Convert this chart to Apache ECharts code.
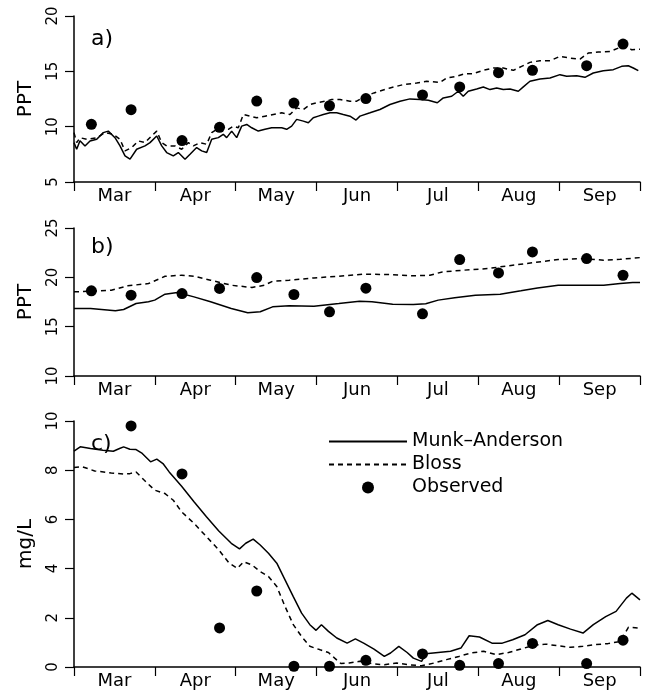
<!DOCTYPE html>
<html><head><meta charset="utf-8">
<script src="https://cdn.jsdelivr.net/npm/echarts@6/dist/echarts.min.js"></script>
<style>html,body{margin:0;padding:0;background:#fff}
#wrap{position:relative;width:648px;height:698px}
#c,#lab{position:absolute;left:0;top:0;width:648px;height:698px}
#lab{pointer-events:none}</style>
</head><body><div id="wrap"><div id="c"></div><div id="lab"></div></div>
<script>
const months = ['Mar','Apr','May','Jun','Jul','Aug','Sep'];
const obsMonth = [0.215,0.706,1.336,1.80,2.26,2.72,3.16,3.61,4.31,4.77,5.25,5.67,6.34,6.79];
const obsA = [10.21,11.53,8.74,9.94,12.31,12.13,11.89,12.54,12.87,13.59,14.88,15.09,15.51,17.46];
const obsB = [18.63,18.19,18.36,18.87,19.98,18.26,16.51,18.9,16.30,21.8,20.45,22.57,21.9,20.21];
const obsC = [null,9.80,7.85,1.59,3.09,0.03,0.03,0.27,0.53,0.07,0.14,0.96,0.14,1.09];

const aMunkX = [0,0.033,0.074,0.136,0.198,0.281,0.362,0.424,0.507,0.569,0.631,0.693,0.775,0.878,0.94,1.023,1.085,1.146,1.228,1.29,1.373,1.435,1.517,1.579,1.641,1.703,1.785,1.846,1.888,1.95,2.012,2.074,2.136,2.198,2.279,2.362,2.445,2.507,2.569,2.63,2.692,2.754,2.836,2.898,2.959,3.021,3.083,3.166,3.249,3.33,3.413,3.488,3.537,3.661,3.784,3.908,4.032,4.155,4.279,4.382,4.493,4.567,4.671,4.753,4.814,4.876,4.98,5.062,5.145,5.228,5.309,5.392,5.495,5.557,5.639,5.763,5.887,6.01,6.093,6.217,6.319,6.422,6.546,6.67,6.773,6.855,6.917,6.979];
const aMunkY = [8.56,7.96,8.73,8.26,8.71,8.86,9.46,9.6,9.0,8.26,7.36,7.06,7.96,8.26,8.56,9.16,8.26,7.66,7.36,7.66,7.06,7.51,8.11,7.81,7.66,8.86,9.01,9.31,9.01,9.6,9.01,10.05,10.2,9.9,9.6,9.76,9.9,9.9,9.9,9.76,10.05,10.66,10.5,10.36,10.8,10.95,11.1,11.25,11.25,11.1,10.95,10.6,10.95,11.25,11.55,12.0,12.3,12.51,12.45,12.39,12.16,12.6,12.75,13.2,12.75,13.2,13.41,13.59,13.35,13.5,13.35,13.41,13.2,13.59,14.1,14.31,14.4,14.7,14.55,14.61,14.46,14.85,15.06,15.15,15.45,15.5,15.3,15.06];
const aBlossX = [0,0.033,0.074,0.157,0.281,0.383,0.485,0.569,0.631,0.714,0.795,0.878,0.96,1.023,1.085,1.146,1.249,1.332,1.414,1.476,1.558,1.641,1.703,1.765,1.846,1.908,1.97,2.032,2.094,2.177,2.259,2.362,2.465,2.568,2.671,2.754,2.836,2.92,3.002,3.105,3.188,3.29,3.413,3.496,3.6,3.71,3.908,4.073,4.238,4.362,4.527,4.609,4.733,4.836,4.939,5.062,5.186,5.309,5.433,5.536,5.639,5.763,5.887,6.01,6.134,6.258,6.36,6.484,6.629,6.732,6.835,6.897,7.0];
const aBlossY = [9.46,8.56,9.0,8.86,9.0,9.46,9.31,8.86,7.81,8.11,8.71,8.56,9.16,9.6,8.56,8.26,8.26,7.96,8.56,8.26,8.56,8.41,9.46,9.76,9.9,9.76,10.05,9.9,11.1,10.95,10.8,10.95,11.1,11.25,11.1,11.7,11.55,12.0,12.16,12.3,12.45,12.45,12.3,12.3,12.75,13.05,13.5,13.8,13.95,14.1,14.0,14.4,14.55,14.79,14.79,15.09,15.3,15.3,15.09,15.45,15.81,15.96,15.96,16.35,16.2,16.11,16.65,16.74,16.8,17.1,17.25,16.95,17.0];

const bMunkX = [0,0.205,0.512,0.614,0.768,0.921,0.998,1.126,1.279,1.484,1.689,1.945,2.149,2.303,2.456,2.661,2.968,3.275,3.531,3.685,3.941,4.197,4.35,4.504,4.708,4.964,5.271,5.527,5.732,5.988,6.244,6.551,6.755,6.909,7.0];
const bMunkY = [16.84,16.84,16.61,16.74,17.35,17.52,17.69,18.29,18.46,18.02,17.52,16.84,16.41,16.51,17.01,17.11,17.08,17.35,17.58,17.52,17.28,17.25,17.32,17.69,17.92,18.19,18.29,18.63,18.93,19.2,19.2,19.2,19.37,19.47,19.47];
const bBlossX = [0,0.256,0.461,0.665,0.921,1.126,1.331,1.484,1.689,1.945,2.201,2.354,2.456,2.661,2.968,3.275,3.582,3.889,4.197,4.401,4.555,4.811,5.118,5.425,5.681,5.988,6.295,6.551,6.755,7.0];
const bBlossY = [18.53,18.6,18.7,19.14,19.37,20.11,20.21,20.11,19.71,19.2,18.97,19.2,19.6,19.71,19.94,20.11,20.32,20.28,20.15,20.21,20.55,20.72,20.89,21.23,21.49,21.8,21.9,21.73,21.83,22.0];

const cMunkX = [0,0.077,0.205,0.358,0.486,0.563,0.614,0.691,0.768,0.844,0.947,1.024,1.1,1.177,1.331,1.484,1.638,1.791,1.945,2.047,2.124,2.216,2.303,2.405,2.508,2.61,2.712,2.815,2.917,2.994,3.06,3.147,3.25,3.378,3.48,3.582,3.71,3.838,3.915,4.017,4.12,4.197,4.299,4.35,4.504,4.657,4.785,4.887,5.015,5.169,5.297,5.425,5.578,5.732,5.86,5.988,6.141,6.295,6.423,6.576,6.704,6.832,6.899,7.0];
const cMunkY = [8.78,8.95,8.88,8.81,8.77,8.88,8.95,8.85,8.84,8.68,8.34,8.45,8.27,7.93,7.35,6.72,6.11,5.53,5.03,4.8,5.03,5.2,4.96,4.62,4.22,3.54,2.86,2.19,1.72,1.49,1.72,1.45,1.18,0.97,1.14,0.97,0.73,0.43,0.57,0.84,0.59,0.36,0.23,0.54,0.59,0.64,0.77,1.27,1.22,0.97,0.97,1.11,1.31,1.72,1.89,1.72,1.54,1.38,1.72,2.05,2.26,2.8,3.0,2.73];
const cBlossX = [0,0.102,0.256,0.461,0.614,0.691,0.768,0.87,0.998,1.126,1.228,1.331,1.484,1.638,1.791,1.919,2.021,2.098,2.201,2.303,2.405,2.508,2.61,2.712,2.815,2.917,3.045,3.147,3.224,3.301,3.403,3.531,3.685,3.838,3.992,4.145,4.299,4.452,4.606,4.759,4.913,5.067,5.22,5.374,5.527,5.681,5.835,5.988,6.141,6.295,6.448,6.602,6.755,6.858,7.0];
const cBlossY = [8.11,8.14,7.97,7.89,7.84,7.86,7.93,7.59,7.19,7.05,6.78,6.31,5.84,5.3,4.76,4.22,4.01,4.28,4.15,3.88,3.68,3.27,2.46,1.72,1.24,0.84,0.7,0.59,0.36,0.14,0.16,0.23,0.14,0.09,0.16,0.09,0.05,0.16,0.3,0.43,0.57,0.64,0.5,0.59,0.73,0.88,0.93,0.86,0.8,0.84,0.91,0.95,1.04,1.62,1.58];

const zip = (xs, ys) => xs.map((x, i) => [x, ys[i]]);
const FONT = 'DejaVu Sans';
const grids = [
  {left: 74, right: 8, top: 16, height: 166},
  {left: 74, right: 8, top: 228, height: 148},
  {left: 74, right: 8, top: 421, height: 246}
];
const yCfg = [
  {min: 5, max: 20, interval: 5, name: 'PPT'},
  {min: 10, max: 25, interval: 5, name: 'PPT'},
  {min: 0, max: 10, interval: 2, name: 'mg/L'}
];
const xAxes = [], yAxes = [], series = [];
const labX = [], labY = [];
const lineSets = [
  [aMunkX, aMunkY, aBlossX, aBlossY, obsA],
  [bMunkX, bMunkY, bBlossX, bBlossY, obsB],
  [cMunkX, cMunkY, cBlossX, cBlossY, obsC]
];
grids.forEach((g, i) => {
  xAxes.push({
    type: 'value', gridIndex: i, min: 0, max: 7, interval: 1,
    axisLine: {show: true, onZero: false, lineStyle: {color: '#000', width: 1.5}},
    axisTick: {show: true, inside: false, length: 9, lineStyle: {color: '#000', width: 1.2}},
    axisLabel: {color: '#000', fontSize: 18, fontFamily: FONT, margin: 5,
      padding: [0, 0, 0, 81], formatter: v => months[v] || ''},
    splitLine: {show: false}
  });
  const yc = yCfg[i];
  yAxes.push({
    type: 'value', gridIndex: i, min: yc.min, max: yc.max, interval: yc.interval,
    name: yc.name, nameLocation: 'middle', nameRotate: 90, nameGap: 38,
    nameTextStyle: {color: '#000', fontSize: 20, fontFamily: FONT},
    axisLine: {show: true, onZero: false, lineStyle: {color: '#000', width: 1.5}},
    axisTick: {show: true, inside: false, length: 9, lineStyle: {color: '#000', width: 1.2}},
    axisLabel: {show: false},
    splitLine: {show: false}
  });
  // label-only axes for the overlay instance (rotated tick numbers)
  labX.push({gridIndex: i, type: 'value', min: 0, max: 7, show: false});
  labY.push({
    gridIndex: i, type: 'value', min: yc.min, max: yc.max, interval: yc.interval,
    axisLine: {show: false}, axisTick: {show: false}, splitLine: {show: false},
    axisLabel: {rotate: 90, fontSize: 15, color: '#000', fontFamily: FONT, margin: 13}
  });
  const [mx, my, bx, by, ob] = lineSets[i];
  series.push({
    name: 'Munk–Anderson', type: 'line', xAxisIndex: i, yAxisIndex: i,
    data: zip(mx, my), symbol: 'none', showSymbol: false,
    lineStyle: {color: '#000', width: 1.5, type: 'solid'}, itemStyle: {color: '#000', opacity: 0}
  });
  series.push({
    name: 'Bloss', type: 'line', xAxisIndex: i, yAxisIndex: i,
    data: zip(bx, by), symbol: 'none', showSymbol: false,
    lineStyle: {color: '#000', width: 1.5, type: [5, 4]}, itemStyle: {color: '#000', opacity: 0}
  });
  series.push({
    name: 'Observed', type: 'scatter', xAxisIndex: i, yAxisIndex: i,
    data: zip(obsMonth, ob).filter(p => p[1] !== null), symbol: 'circle', symbolSize: 11,
    itemStyle: {color: '#000', opacity: 1}, clip: false, z: 5
  });
});
const option = {
  animation: false,
  backgroundColor: '#fff',
  textStyle: {fontFamily: FONT},
  grid: grids,
  xAxis: xAxes,
  yAxis: yAxes,
  title: [
    {text: 'a)', left: 86, top: 23, textStyle: {fontSize: 22, fontWeight: 'normal', color: '#000', fontFamily: FONT}},
    {text: 'b)', left: 86, top: 231, textStyle: {fontSize: 22, fontWeight: 'normal', color: '#000', fontFamily: FONT}},
    {text: 'c)', left: 86, top: 428, textStyle: {fontSize: 22, fontWeight: 'normal', color: '#000', fontFamily: FONT}}
  ],
  legend: {
    orient: 'vertical', left: 328, top: 432, padding: 0,
    itemWidth: 78, itemHeight: 12, itemGap: 4,
    data: [
      {name: 'Munk–Anderson', itemStyle: {opacity: 0}},
      {name: 'Bloss', itemStyle: {opacity: 0}},
      {name: 'Observed', itemStyle: {opacity: 1, color: '#000'}}
    ],
    textStyle: {fontSize: 19, color: '#000', fontFamily: FONT},
    selectedMode: false
  },
  series: series
};
const chart = echarts.init(document.getElementById('c'), null, {renderer: 'canvas'});
chart.setOption(option);

const labChart = echarts.init(document.getElementById('lab'));
labChart.setOption({
  animation: false,
  backgroundColor: 'transparent',
  textStyle: {fontFamily: FONT},
  grid: grids,
  xAxis: labX,
  yAxis: labY,
  series: []
});
</script>
</body></html>
